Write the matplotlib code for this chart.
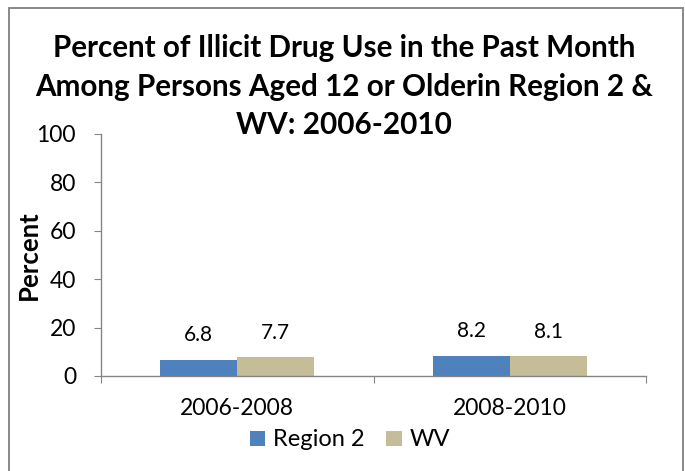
import numpy as np
import matplotlib
matplotlib.use('Agg')
import matplotlib.pyplot as plt
from matplotlib.patches import Rectangle

plt.rcParams['font.family'] = ['Lato', 'DejaVu Sans']

categories = ["2006-2008", "2008-2010"]
series_names = ["Region 2", "WV"]
region2 = [6.8, 8.2]
wv = [7.7, 8.1]
yticks = [0, 20, 40, 60, 80, 100]
title_lines = ["Percent of Illicit Drug Use in the Past Month",
               "Among Persons Aged 12 or Olderin Region 2 &",
               "WV: 2006-2010"]

colors = ["#4F81BD", "#C4BD97"]
axis_gray = "#868686"
W, H = 685, 471

fig = plt.figure(figsize=(W / 100, H / 100), dpi=100)
fig.patch.set_facecolor("white")

# outer chart frame (runs off the bottom of the picture)
fig.patches.append(Rectangle((9 / W, -0.05), 674 / W, 1 - 8 / H + 0.05,
                             transform=fig.transFigure, fill=False,
                             edgecolor="#7f7f7f", linewidth=1.3))

ax = fig.add_axes([101 / W, 1 - 376 / H, 545 / W, 242 / H])

x = np.arange(len(categories))
w = 0.283
for i, (vals, name) in enumerate(zip([region2, wv], series_names)):
    pos = x + (i - 0.5) * w
    bars = ax.bar(pos, vals, width=w, color=colors[i], label=name, zorder=2)
    for b, v in zip(bars, vals):
        ax.annotate(f"{v:.1f}", (b.get_x() + b.get_width() / 2, v),
                    xytext=(0, 13.5), textcoords="offset points",
                    ha="center", va="baseline", fontsize=15)

ax.set_xlim(-0.5, len(categories) - 0.5)
ax.set_ylim(0, 100)
ax.set_yticks(yticks)
ax.tick_params(axis="y", labelsize=16.5, length=5, color=axis_gray, pad=13)

# category ticks sit between groups, labels sit under each group
ax.set_xticks(np.arange(len(categories) + 1) - 0.5)
ax.set_xticklabels([])
ax.set_xticks(x, minor=True)
ax.set_xticklabels(categories, minor=True, fontsize=16.5)
ax.tick_params(axis="x", which="major", length=5, color=axis_gray)
ax.tick_params(axis="x", which="minor", length=0, pad=16)

for s in ["top", "right"]:
    ax.spines[s].set_visible(False)
for s in ["left", "bottom"]:
    ax.spines[s].set_color(axis_gray)
    ax.spines[s].set_linewidth(1.0)

ax.set_ylabel("Percent", fontsize=18.5, fontweight="bold")
ax.yaxis.set_label_coords(-0.11, 0.5)

for line, base in zip(title_lines, [57, 95.5, 134]):
    fig.text(344 / W, 1 - base / H, line, ha="center", va="baseline",
             fontsize=21.3, fontweight="bold")

fig.legend(loc="center", bbox_to_anchor=(350 / W, 1 - 440 / H),
           ncol=2, frameon=False, fontsize=17, handlelength=0.64,
           handleheight=0.6, handletextpad=0.34, columnspacing=0.93,
           borderpad=0)

fig.savefig("out.png", dpi=100)
